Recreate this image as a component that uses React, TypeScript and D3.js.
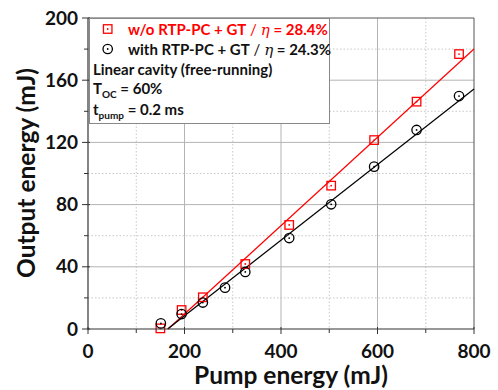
import React from "react";
import * as d3 from "d3";

// Measured output energy vs. pump energy for two cavity configurations
const pumpWithout = [150, 194, 238, 326, 417, 504, 593, 681, 769];
const outputWithout = [0.4, 12.2, 20.4, 41.8, 66.9, 92.2, 121.5, 146.2, 176.8];
const pumpWith = [151, 194, 238, 284, 326, 417, 504, 593, 681, 769];
const outputWith = [3.6, 9.6, 17, 26.6, 36.7, 58.5, 80.2, 104.4, 128, 149.8];

// Linear fits: slope efficiency and threshold (mJ)
const fitSlopes = [0.284, 0.243];
const fitThresholds = [166, 165];

const xMajorTicks = [0, 200, 400, 600, 800];
const xMinorTicks = [100, 300, 500, 700];
const yMajorTicks = [0, 40, 80, 120, 160, 200];
const yMinorTicks = [20, 60, 100, 140, 180];

const legendLabels = ["w/o RTP-PC + GT", "with RTP-PC + GT"];
const legendEta = ["28.4%", "24.3%"];

const W = 498;
const H = 390;
const left = 88;
const right = 474;
const top = 18;
const bottom = 329;
const FONT = "Lato, 'Open Sans', sans-serif";
const RED = "#ff0000";

export default function App() {
  const x = d3.scaleLinear().domain([0, 800]).range([left, right]);
  const y = d3.scaleLinear().domain([0, 200]).range([bottom, top]);
  const line = d3
    .line<[number, number]>()
    .x((d) => x(d[0]))
    .y((d) => y(d[1]));

  const fitPath = (i: number) =>
    line([
      [fitThresholds[i], 0],
      [800, fitSlopes[i] * (800 - fitThresholds[i])],
    ]) as string;

  const square = (cx: number, cy: number, key: string | number, s = 8.5) => (
    <g key={key}>
      <rect x={cx - s / 2} y={cy - s / 2} width={s} height={s} fill="none" stroke={RED} strokeWidth={1.3} />
      <circle cx={cx} cy={cy} r={0.9} fill={RED} />
    </g>
  );
  const ring = (cx: number, cy: number, key: string | number, r = 4.7) => (
    <g key={key}>
      <circle cx={cx} cy={cy} r={r} fill="none" stroke="#000" strokeWidth={1.3} />
      <circle cx={cx} cy={cy} r={0.9} fill="#000" />
    </g>
  );

  return (
    <svg width={W} height={H} style={{ position: "absolute", left: 0, top: 0, background: "#fff" }}>
      <rect width={W} height={H} fill="#fff" />
      {/* grid */}
      {xMinorTicks.map((t) => (
        <line key={"xm" + t} x1={x(t)} x2={x(t)} y1={top} y2={bottom} stroke="#c8c8c8" strokeDasharray="1.5,2" />
      ))}
      {yMinorTicks.map((t) => (
        <line key={"ym" + t} x1={left} x2={right} y1={y(t)} y2={y(t)} stroke="#c8c8c8" strokeDasharray="1.5,2" />
      ))}
      {xMajorTicks.slice(1, -1).map((t) => (
        <line key={"xg" + t} x1={x(t)} x2={x(t)} y1={top} y2={bottom} stroke="#b4b4b4" strokeWidth={1} />
      ))}
      {yMajorTicks.slice(1, -1).map((t) => (
        <line key={"yg" + t} x1={left} x2={right} y1={y(t)} y2={y(t)} stroke="#b4b4b4" strokeWidth={1} />
      ))}
      {/* frame */}
      <line x1={left} x2={right} y1={top} y2={top} stroke="#555" strokeWidth={1} />
      <line x1={right} x2={right} y1={top} y2={bottom} stroke="#555" strokeWidth={1} />

      {/* fit lines */}
      <path d={fitPath(0)} fill="none" stroke={RED} strokeWidth={1.2} />
      <path d={fitPath(1)} fill="none" stroke="#000" strokeWidth={1.2} />

      {/* data */}
      {pumpWithout.map((p, i) => square(x(p), y(outputWithout[i]), "s" + i))}
      {pumpWith.map((p, i) => ring(x(p), y(outputWith[i]), "c" + i))}

      {/* axes */}
      <line x1={left} x2={left} y1={top} y2={bottom + 0.5} stroke="#333" strokeWidth={1.2} />
      <line x1={left - 0.5} x2={right} y1={bottom} y2={bottom} stroke="#333" strokeWidth={1.2} />
      {xMajorTicks.map((t) => (
        <line key={"xt" + t} x1={x(t)} x2={x(t)} y1={bottom - 2} y2={bottom + 5} stroke="#333" />
      ))}
      {xMinorTicks.map((t) => (
        <line key={"xmt" + t} x1={x(t)} x2={x(t)} y1={bottom} y2={bottom + 4} stroke="#333" />
      ))}
      {yMajorTicks.map((t) => (
        <line key={"yt" + t} x1={left - 6} x2={left + 2} y1={y(t)} y2={y(t)} stroke="#333" />
      ))}
      {yMinorTicks.map((t) => (
        <line key={"ymt" + t} x1={left - 4} x2={left} y1={y(t)} y2={y(t)} stroke="#333" />
      ))}
      {xMajorTicks.map((t) => (
        <text key={"xl" + t} x={x(t)} y={bottom + 29} textAnchor="middle" fontFamily={FONT} fontWeight="bold" fontSize={19} fill="#111">
          {t}
        </text>
      ))}
      {yMajorTicks.map((t) => (
        <text key={"yl" + t} x={left - 10} y={y(t) + 6.5} textAnchor="end" fontFamily={FONT} fontWeight="bold" fontSize={19} fill="#111">
          {t}
        </text>
      ))}
      <text x={291} y={384} textAnchor="middle" fontFamily={FONT} fontWeight="bold" fontSize={24.5} fill="#111">
        Pump energy (mJ)
      </text>
      <text
        transform={`translate(35, 173) rotate(-90)`}
        textAnchor="middle"
        fontFamily={FONT}
        fontWeight="bold"
        fontSize={24.5}
        fill="#111"
      >
        Output energy (mJ)
      </text>

      {/* legend */}
      <rect x={89.5} y={18.5} width={240} height={105} fill="#fff" stroke="#888" strokeWidth={1} />
      {square(107.7, 29, "ls")}
      {ring(107.7, 49, "lc")}
      {[0, 1].map((i) => (
        <text key={"lg" + i} x={128} y={34.5 + i * 20} fontFamily={FONT} fontWeight="bold" fontSize={15} fill={i === 0 ? RED : "#111"}>
          {legendLabels[i]}
          <tspan fontWeight="normal">{"  / "}</tspan>
          <tspan fontFamily="'DejaVu Serif', serif" fontStyle="italic" fontWeight="normal">η</tspan>
          <tspan>{" = " + legendEta[i]}</tspan>
        </text>
      ))}
      <text x={93} y={75} fontFamily={FONT} fontWeight="bold" fontSize={15} fill="#111">
        Linear cavity (free-running)
      </text>
      <text x={93} y={94} fontFamily={FONT} fontWeight="bold" fontSize={15} fill="#111">
        T<tspan fontSize={10} dy={4}>OC</tspan>
        <tspan dy={-4}>{" = 60%"}</tspan>
      </text>
      <text x={93} y={115} fontFamily={FONT} fontWeight="bold" fontSize={15} fill="#111">
        t<tspan fontSize={10} dy={4}>pump</tspan>
        <tspan dy={-4}>{" = 0.2 ms"}</tspan>
      </text>
    </svg>
  );
}
